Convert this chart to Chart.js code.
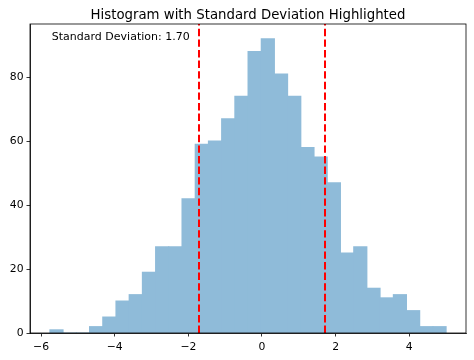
<!DOCTYPE html>
<html><head><meta charset="utf-8">
<script src="https://cdn.jsdelivr.net/npm/chart.js@4/dist/chart.umd.min.js"></script>
<style>html,body{margin:0;padding:0;background:#fff}#wrap{width:474px;height:360px}</style>
</head><body><div id="wrap"><canvas id="c" width="474" height="360"></canvas></div>
<script>
const binStart = -5.76;
const binWidth = 0.3587;
const counts = [1,0,0,2,5,10,12,19,27,27,42,59,60,67,74,88,92,81,74,58,55,47,25,27,14,11,12,7,2,2];
const xTicks = [-6,-4,-2,0,2,4];
const yTicks = [0,20,40,60,80];
const stdDev = 1.70;
const stdLines = [-1.70, 1.70];
const titleText = 'Histogram with Standard Deviation Highlighted';
const noteText = 'Standard Deviation: ' + stdDev.toFixed(2);

const points = counts.map((c,i)=>({x: binStart + binWidth*(i+0.5), y: c}));
const FONT = "'DejaVu Sans', sans-serif";

const deco = {
  id:'deco',
  afterDatasetsDraw(chart){
    const {ctx, chartArea:a, scales} = chart;
    ctx.save();
    ctx.strokeStyle = 'red';
    ctx.lineWidth = 2;
    ctx.setLineDash([7.4,3.2]);
    stdLines.forEach(v=>{
      const px = Math.round(scales.x.getPixelForValue(v));
      ctx.beginPath(); ctx.moveTo(px, a.bottom); ctx.lineTo(px, a.top); ctx.stroke();
    });
    ctx.setLineDash([]);
    ctx.strokeStyle = '#000';
    ctx.lineWidth = 0.8;
    ctx.strokeRect(a.left, a.top, a.right-a.left, a.bottom-a.top);
    ctx.fillStyle = '#000';
    ctx.font = '11px ' + FONT;
    ctx.textAlign = 'left'; ctx.textBaseline = 'alphabetic';
    ctx.fillText(noteText, a.left + 0.05*(a.right-a.left), 40);
    ctx.font = '13.3px ' + FONT;
    ctx.textAlign = 'center';
    ctx.fillText(titleText, (a.left+a.right)/2, 18.5);
    ctx.restore();
  }
};

new Chart(document.getElementById('c'), {
  type:'bar',
  data:{datasets:[{data: points, backgroundColor:'#8fbbd9', borderWidth:0, inflateAmount:0.5, barPercentage:1, categoryPercentage:1}]},
  options:{
    responsive:false, animation:false,
    layout:{padding:{top:24,right:8,left:0,bottom:0}},
    plugins:{legend:{display:false}, tooltip:{enabled:false}, title:{display:false}},
    scales:{
      x:{type:'linear', min:-6.30, max:5.54, offset:false,
        afterBuildTicks(s){ s.ticks = xTicks.map(v=>({value:v})); },
        afterFit(s){ s.height = 27; },
        grid:{display:true, offset:false, drawOnChartArea:false, drawTicks:true, tickLength:3.5, color:'#000', lineWidth:0.8},
        border:{display:true, color:'#000', width:0.8},
        ticks:{color:'#000', font:{family:FONT, size:10.8}, padding:4, maxRotation:0, autoSkip:false,
          callback:v=> (v<0 ? '\u2212'+Math.abs(v) : String(v))}
      },
      y:{min:0, max:96.6,
        afterBuildTicks(s){ s.ticks = yTicks.map(v=>({value:v})); },
        afterFit(s){ s.width = 30; },
        grid:{display:true, offset:false, drawOnChartArea:false, drawTicks:true, tickLength:3.5, color:'#000', lineWidth:0.8},
        border:{display:true, color:'#000', width:0.8},
        ticks:{color:'#000', font:{family:FONT, size:10.8}, padding:3, autoSkip:false}
      }
    }
  },
  plugins:[deco]
});
</script></body></html>
